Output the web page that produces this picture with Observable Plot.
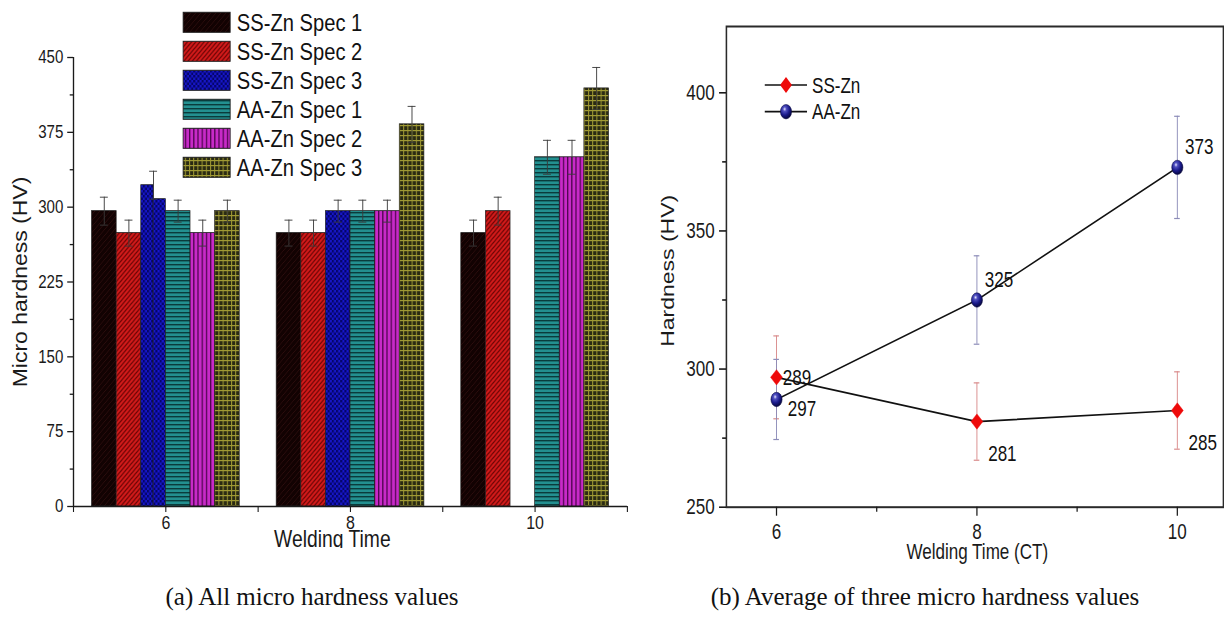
<!DOCTYPE html>
<html><head><meta charset="utf-8">
<script src="https://cdn.jsdelivr.net/npm/d3@7"></script>
<script src="https://cdn.jsdelivr.net/npm/@observablehq/plot@0.6"></script>
<style>
html,body{margin:0;padding:0;}
body{width:1224px;height:618px;overflow:hidden;background:#fff;position:relative;font-family:'Liberation Sans',Arial,sans-serif;}
.panel{position:absolute;top:0;transform-origin:0 0;overflow:hidden;}
#a{left:0;width:762px;height:548px;transform:scaleX(0.84);}
#b{left:640px;width:754px;height:572px;transform:scaleX(0.775);}
.overlay{position:absolute;left:0;top:0;pointer-events:none;}
.caption{position:absolute;top:582px;font-family:'Liberation Serif','Times New Roman',serif;font-size:25px;line-height:30px;color:#111;white-space:nowrap;transform:translateX(-50%);}
</style>
</head><body>
<svg width="0" height="0" style="position:absolute">
  <defs>
    <pattern id="p0" patternUnits="userSpaceOnUse" width="6" height="6">
      <rect width="6" height="6" fill="#120202"/>
      <path d="M-1,7 L7,-1 M-1,1 L1,-1 M5,7 L7,5" stroke="#2c0d0d" stroke-width="1"/>
    </pattern>
    <pattern id="p1" patternUnits="userSpaceOnUse" width="5" height="5">
      <rect width="5" height="5" fill="#d21a1a"/>
      <path d="M-1,6 L6,-1 M-1,1 L1,-1 M4,6 L6,4" stroke="#6e0505" stroke-width="1.3"/>
    </pattern>
    <pattern id="p2" patternUnits="userSpaceOnUse" width="5" height="5">
      <rect width="5" height="5" fill="#1616c8"/>
      <rect x="0" y="0" width="2.5" height="2.5" fill="#05056a"/>
      <rect x="2.5" y="2.5" width="2.5" height="2.5" fill="#05056a"/>
    </pattern>
    <pattern id="p3" patternUnits="userSpaceOnUse" width="5" height="4">
      <rect width="5" height="4" fill="#239090"/>
      <rect x="0" y="0" width="5" height="1.4" fill="#0a3c3c"/>
    </pattern>
    <pattern id="p4" patternUnits="userSpaceOnUse" width="5" height="5">
      <rect width="5" height="5" fill="#c82ac8"/>
      <rect x="0" y="0" width="1.5" height="5" fill="#4c044c"/>
    </pattern>
    <pattern id="p5" patternUnits="userSpaceOnUse" width="5" height="5">
      <rect width="5" height="5" fill="#a09a34"/>
      <rect x="1.2" y="1.2" width="3.8" height="3.8" fill="#2a2a12"/>
    </pattern>
    <radialGradient id="ball" cx="0.38" cy="0.32" r="0.7">
      <stop offset="0" stop-color="#e6e6ff"/>
      <stop offset="0.22" stop-color="#5050c0"/>
      <stop offset="0.6" stop-color="#1a1a8a"/>
      <stop offset="1" stop-color="#06063a"/>
    </radialGradient>
  </defs>
</svg>
<div id="a" class="panel"></div>
<div id="b" class="panel"></div>
<div class="caption" style="left:312px">(a) All micro hardness values</div>
<div class="caption" style="left:925px">(b) Average of three micro hardness values</div>
<script>
// ---------- data ----------
const weldingTimes = [6, 8, 10];
const specSeries = ["SS-Zn Spec 1", "SS-Zn Spec 2", "SS-Zn Spec 3", "AA-Zn Spec 1", "AA-Zn Spec 2", "AA-Zn Spec 3"];
const ssZnSpec1 = [296, 274, 274];
const ssZnSpec2 = [274, 274, 296];
const ssZnSpec3 = [322, 296, null];
const aaZnSpec1 = [296, 296, 350];
const aaZnSpec2 = [274, 296, 350];
const aaZnSpec3 = [296, 383, 419];
const ssZnSpec1Err = [14, 13, 13];
const ssZnSpec2Err = [13, 13, 14];
const ssZnSpec3Err = [14, 11, null];
const aaZnSpec1Err = [11, 11, 17];
const aaZnSpec2Err = [13, 11, 17];
const aaZnSpec3Err = [11, 18, 21];
const ssZnSpec3StepAt6 = 308; // right half of the SS-Zn Spec 3 column at 6
const yTicksA = [0, 75, 150, 225, 300, 375, 450];
const xTickLabelsA = [6, 8, 10];

const avgSeries = ["SS-Zn", "AA-Zn"];
const ssZnAvg = [297, 281, 285];
const ssZnAvgErr = [15, 14, 14];
const aaZnAvg = [289, 325, 373];
const aaZnAvgErr = [14.5, 16, 18.5];
const ssZnLabels = ["289", "281", "285"];
const aaZnLabels = ["297", "325", "373"];
const yTicksB = [250, 300, 350, 400];
const xTicksB = [6, 8, 10];

// ---------- panel (a) ----------
const FONT = "'Liberation Sans', Arial, sans-serif";
const specValues = [ssZnSpec1, ssZnSpec2, ssZnSpec3, aaZnSpec1, aaZnSpec2, aaZnSpec3];
const specErrors = [ssZnSpec1Err, ssZnSpec2Err, ssZnSpec3Err, aaZnSpec1Err, aaZnSpec2Err, aaZnSpec3Err];
const patterns = ["url(#p0)", "url(#p1)", "url(#p2)", "url(#p3)", "url(#p4)", "url(#p5)"];
const groupSpan = 1.6, bw = groupSpan / specSeries.length, capA = 0.043;
const rects = [], errs = [];
specSeries.forEach((s, i) => weldingTimes.forEach((t, j) => {
  const v = specValues[i][j];
  if (v == null) return;
  const x1 = t - groupSpan / 2 + i * bw, x2 = x1 + bw, xc = x1 + bw / 2;
  if (i === 2 && t === 6) {
    rects.push({i, x1, x2: xc, v});
    rects.push({i, x1: xc, x2, v: ssZnSpec3StepAt6});
  } else rects.push({i, x1, x2, v});
  errs.push({xc, v, e: specErrors[i][j]});
}));
const caps = errs.flatMap(d => [{xc: d.xc, y: d.v + d.e}, {xc: d.xc, y: d.v - d.e}]);
const minorA = d3.range(37.5, 450, 75);

const plotA = Plot.plot({
  width: 762, height: 548,
  marginTop: 57, marginBottom: 42, marginLeft: 87, marginRight: 15.6,
  style: {fontFamily: FONT, background: "transparent", color: "#1a1a1a"},
  x: {type: "linear", domain: [5, 11]},
  y: {domain: [0, 450]},
  marks: [
    ...specSeries.map((s, i) => Plot.rect(rects.filter(r => r.i === i), {
      x1: "x1", x2: "x2", y1: () => 0, y2: "v", fill: patterns[i], stroke: "#1e1e1e", strokeWidth: 0.8
    })),
    Plot.ruleX(errs, {x: "xc", y1: d => d.v - d.e, y2: d => d.v + d.e, stroke: "#3a3a3a", strokeWidth: 1}),
    Plot.ruleY(caps, {y: "y", x1: d => d.xc - capA, x2: d => d.xc + capA, stroke: "#3a3a3a", strokeWidth: 1}),
    Plot.ruleY([0], {stroke: "#1a1a1a", strokeWidth: 1.6}),
    Plot.ruleX([5], {y1: 0, y2: 450, stroke: "#1a1a1a", strokeWidth: 1.6}),
    Plot.axisY(yTicksA, {anchor: "left", tickSize: 7, tickPadding: 5, fontSize: 18, label: null, strokeWidth: 1.3}),
    Plot.axisY(minorA, {anchor: "left", tickSize: 4, tickFormat: () => "", label: null, strokeWidth: 1.3}),
    Plot.axisX(d3.range(5, 12), {anchor: "bottom", tickSize: 6, tickPadding: 3, fontSize: 19, label: null, strokeWidth: 1.3,
      tickFormat: d => xTickLabelsA.includes(d) ? String(d) : ""}),
    Plot.text(["Micro hardness (HV)"], {frameAnchor: "left", rotate: -90, dx: -63, dy: 0, fontSize: 23, fill: "#1a1a1a", textAnchor: "middle", lineAnchor: "middle"}),
    Plot.text(["Welding Time"], {frameAnchor: "bottom", dx: -21.5, dy: 33.6, fontSize: 23, fill: "#1a1a1a", textAnchor: "middle", lineAnchor: "middle"})
  ]
});
const divA = document.getElementById("a");
divA.appendChild(plotA);

// legend (a)
const legA = d3.select(divA).append("svg").attr("class", "overlay").attr("width", 762).attr("height", 200);
specSeries.forEach((s, i) => {
  const y = 12.3 + i * 29;
  legA.append("rect").attr("x", 218).attr("y", y).attr("width", 56).attr("height", 20)
    .attr("fill", patterns[i]).attr("stroke", "#1e1e1e").attr("stroke-width", 1);
  legA.append("text").attr("x", 282).attr("y", y + 10).attr("dy", "0.35em")
    .attr("font-family", FONT).attr("font-size", 24).attr("fill", "#111").text(s);
});

// ---------- panel (b) ----------
const ssRows = weldingTimes.map((t, j) => ({t, v: ssZnAvg[j], e: ssZnAvgErr[j], label: ssZnLabels[j], j}));
const aaRows = weldingTimes.map((t, j) => ({t, v: aaZnAvg[j], e: aaZnAvgErr[j], label: aaZnLabels[j], j}));
const capB = 0.028;
const capRows = (rows) => rows.flatMap(d => [{t: d.t, y: d.v + d.e}, {t: d.t, y: d.v - d.e}]);
const ssErrColor = "#d98a8a", aaErrColor = "#8c8cb8";

const plotB = Plot.plot({
  width: 754, height: 572,
  marginTop: 26, marginBottom: 65.3, marginLeft: 111, marginRight: 1.7,
  style: {fontFamily: FONT, background: "transparent", color: "#1a1a1a"},
  x: {type: "linear", domain: [5.5, 10.46]},
  y: {domain: [250, 424]},
  marks: [
    Plot.ruleX(ssRows, {x: "t", y1: d => d.v - d.e, y2: d => d.v + d.e, stroke: ssErrColor, strokeWidth: 1.2}),
    Plot.ruleY(capRows(ssRows), {y: "y", x1: d => d.t - capB, x2: d => d.t + capB, stroke: ssErrColor, strokeWidth: 1.2}),
    Plot.ruleX(aaRows, {x: "t", y1: d => d.v - d.e, y2: d => d.v + d.e, stroke: aaErrColor, strokeWidth: 1.2}),
    Plot.ruleY(capRows(aaRows), {y: "y", x1: d => d.t - capB, x2: d => d.t + capB, stroke: aaErrColor, strokeWidth: 1.2}),
    Plot.line(ssRows, {x: "t", y: "v", stroke: "#111", strokeWidth: 1.7}),
    Plot.line(aaRows, {x: "t", y: "v", stroke: "#111", strokeWidth: 1.7}),
    Plot.dot(ssRows, {x: "t", y: "v", symbol: "diamond2", r: 6.9, fill: "#ee0a0a", stroke: "#ee0a0a", strokeWidth: 0.5}),
    Plot.dot(aaRows, {x: "t", y: "v", r: 7.2, fill: "url(#ball)", stroke: "#0a0a40", strokeWidth: 0.6}),
    Plot.text(ssRows.filter(d => d.j === 0), {x: "t", y: "v", text: "label", dx: 8, dy: 1, textAnchor: "start", lineAnchor: "middle", fontSize: 22, fill: "#111"}),
    Plot.text(ssRows.filter(d => d.j > 0), {x: "t", y: "v", text: "label", dx: 14.5, dy: 32, textAnchor: "start", lineAnchor: "middle", fontSize: 22, fill: "#111"}),
    Plot.text(aaRows.filter(d => d.j === 0), {x: "t", y: "v", text: "label", dx: 14.6, dy: 9.5, textAnchor: "start", lineAnchor: "middle", fontSize: 22, fill: "#111"}),
    Plot.text(aaRows.filter(d => d.j > 0), {x: "t", y: "v", text: "label", dx: 10, dy: -20, textAnchor: "start", lineAnchor: "middle", fontSize: 22, fill: "#111"}),
    Plot.frame({stroke: "#2a2a2a", strokeWidth: 2}),
    Plot.axisY(yTicksB, {anchor: "left", tickSize: 9, tickPadding: 6, fontSize: 22, label: null, strokeWidth: 1.6, tickFormat: d => String(d)}),
    Plot.axisY([275, 325, 375], {anchor: "left", tickSize: 5, tickFormat: () => "", label: null, strokeWidth: 1.6}),
    Plot.axisX(xTicksB, {anchor: "bottom", tickSize: 9, tickPadding: 7, fontSize: 22, label: null, strokeWidth: 1.6, tickFormat: d => String(d)}),
    Plot.axisX([7, 9], {anchor: "bottom", tickSize: 5, tickFormat: () => "", label: null, strokeWidth: 1.6}),
    Plot.text(["Hardness (HV)"], {frameAnchor: "left", rotate: -90, dx: -75, dy: 4, fontSize: 23, fill: "#1a1a1a", textAnchor: "middle", lineAnchor: "middle"}),
    Plot.text(["Welding Time (CT)"], {frameAnchor: "bottom", dx: 3, dy: 45, fontSize: 22, fill: "#1a1a1a", textAnchor: "middle", lineAnchor: "middle"})
  ]
});
const divB = document.getElementById("b");
divB.appendChild(plotB);

// legend (b)
const legB = d3.select(divB).append("svg").attr("class", "overlay").attr("width", 754).attr("height", 160);
avgSeries.forEach((s, i) => {
  const y = 85 + i * 26.7;
  legB.append("line").attr("x1", 161).attr("x2", 215.5).attr("y1", y).attr("y2", y).attr("stroke", "#111").attr("stroke-width", 1.7);
  if (i === 0) {
    legB.append("path").attr("d", `M188.4,${y - 8}L196,${y}L188.4,${y + 8}L180.8,${y}Z`).attr("fill", "#ee0a0a");
  } else {
    legB.append("circle").attr("cx", 188.4).attr("cy", y).attr("r", 7.2).attr("fill", "url(#ball)").attr("stroke", "#0a0a40").attr("stroke-width", 0.6);
  }
  legB.append("text").attr("x", 222).attr("y", y).attr("dy", "0.35em")
    .attr("font-family", FONT).attr("font-size", 22).attr("fill", "#111").text(s);
});
</script>
</body></html>
